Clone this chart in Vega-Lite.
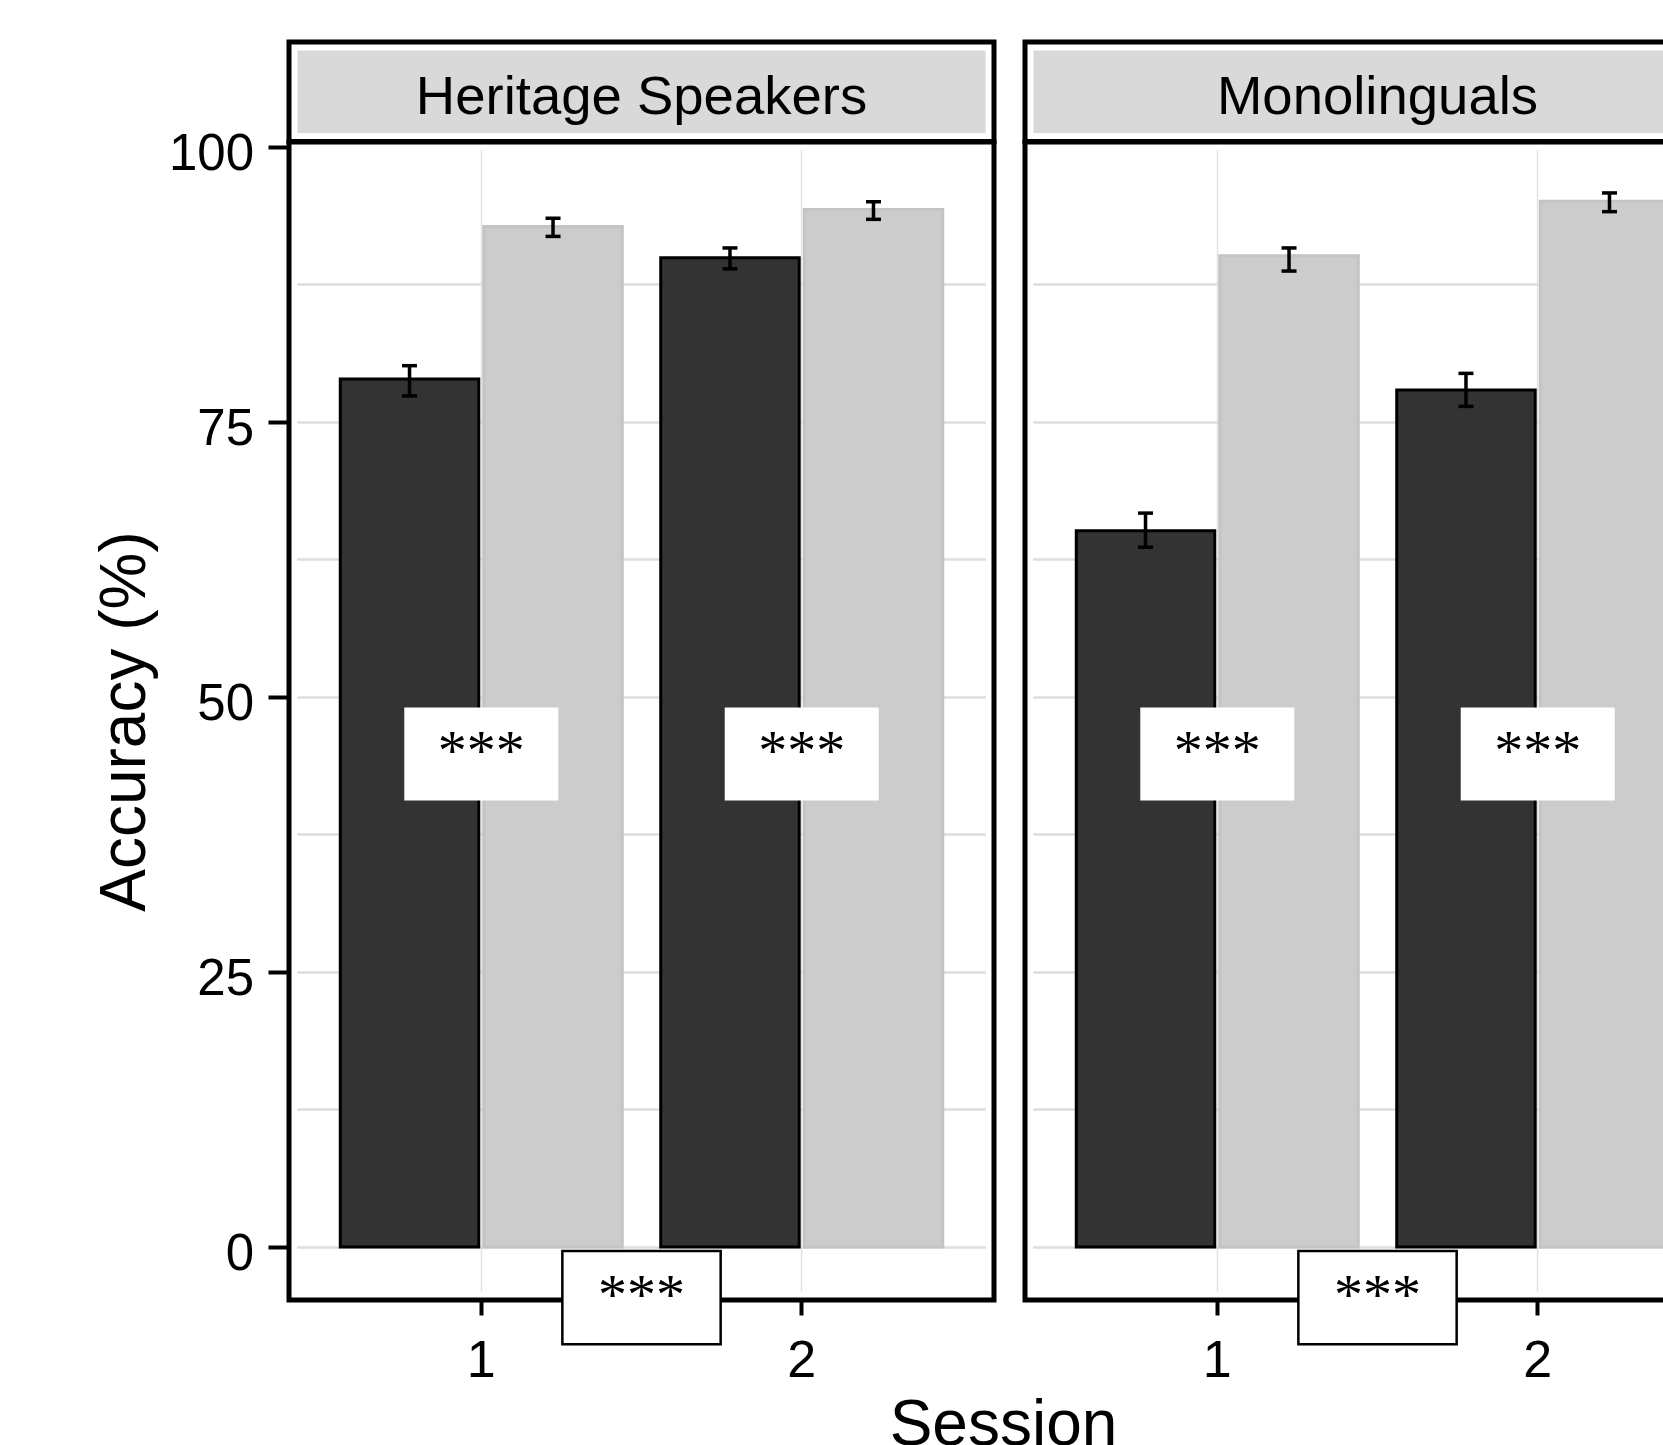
{
  "$schema": "https://vega.github.io/schema/vega-lite/v6.json",
  "background": "white",
  "padding": {"left": 93, "top": 39, "right": 0, "bottom": 0},
  "bounds": "flush",
  "columns": 2,
  "spacing": {"row": 0, "column": 31},
  "datasets": {
    "accuracy": [
      {"Group": "Heritage Speakers", "Session": "1", "Condition": "Condition 1", "Accuracy": 78.9, "Lower": 77.35, "Upper": 80.1},
      {"Group": "Heritage Speakers", "Session": "1", "Condition": "Condition 2", "Accuracy": 92.75, "Lower": 91.85, "Upper": 93.5},
      {"Group": "Heritage Speakers", "Session": "2", "Condition": "Condition 1", "Accuracy": 89.9, "Lower": 88.9, "Upper": 90.8},
      {"Group": "Heritage Speakers", "Session": "2", "Condition": "Condition 2", "Accuracy": 94.3, "Lower": 93.4, "Upper": 95.0},
      {"Group": "Monolinguals", "Session": "1", "Condition": "Condition 1", "Accuracy": 65.1, "Lower": 63.6, "Upper": 66.7},
      {"Group": "Monolinguals", "Session": "1", "Condition": "Condition 2", "Accuracy": 90.1, "Lower": 88.7, "Upper": 90.8},
      {"Group": "Monolinguals", "Session": "2", "Condition": "Condition 1", "Accuracy": 77.9, "Lower": 76.4, "Upper": 79.4},
      {"Group": "Monolinguals", "Session": "2", "Condition": "Condition 2", "Accuracy": 95.05, "Lower": 94.1, "Upper": 95.8}
    ],
    "within": [
      {"Group": "Heritage Speakers", "Session": "1", "Accuracy": 44.8, "Label": "***"},
      {"Group": "Heritage Speakers", "Session": "2", "Accuracy": 44.8, "Label": "***"},
      {"Group": "Monolinguals", "Session": "1", "Accuracy": 44.8, "Label": "***"},
      {"Group": "Monolinguals", "Session": "2", "Accuracy": 44.8, "Label": "***"}
    ],
    "between": [
      {"Group": "Heritage Speakers", "Session": "1", "Accuracy": -4.6, "Label": "***"},
      {"Group": "Monolinguals", "Session": "1", "Accuracy": -4.6, "Label": "***"}
    ]
  },
  "concat": [
    {
      "width": 705,
      "height": 99.5,
      "data": {"values": [{"Group": "Heritage Speakers"}]},
      "layer": [
        {"mark": {"type": "rect", "fill": "#d9d9d9", "stroke": "white", "strokeWidth": 17, "clip": true}, "encoding": {}},
        {"mark": {"type": "rect", "filled": false, "color": "black", "strokeWidth": 5, "opacity": 1}, "encoding": {}},
        {"mark": {"type": "text", "font": "Liberation Sans", "fontSize": 54.5, "baseline": "middle", "align": "center", "dy": 6, "color": "black"}, "encoding": {"text": {"field": "Group"}}}
      ]
    },
    {
      "width": 705,
      "height": 99.5,
      "data": {"values": [{"Group": "Monolinguals"}]},
      "layer": [
        {"mark": {"type": "rect", "fill": "#d9d9d9", "stroke": "white", "strokeWidth": 17, "clip": true}, "encoding": {}},
        {"mark": {"type": "rect", "filled": false, "color": "black", "strokeWidth": 5, "opacity": 1}, "encoding": {}},
        {"mark": {"type": "text", "font": "Liberation Sans", "fontSize": 54.5, "baseline": "middle", "align": "center", "dy": 6, "color": "black"}, "encoding": {"text": {"field": "Group"}}}
      ]
    },
    {
      "width": 705,
      "height": 1158,
      "layer": [
        {
          "data": {"values": [{}]},
          "mark": {"type": "rect", "filled": false, "color": "white", "strokeWidth": 16.4, "clip": true, "opacity": 1},
          "encoding": {}
        },
        {
          "data": {"name": "accuracy"},
          "transform": [{"filter": "datum.Group === 'Heritage Speakers'"}],
          "mark": {"type": "bar", "strokeWidth": 3, "opacity": 1},
          "encoding": {
            "x": {
              "field": "Session", "type": "nominal",
              "scale": {"type": "band", "domain": ["1", "2"], "paddingInner": 0.12, "paddingOuter": 0.16},
              "axis": {
                "bandPosition": 0.5, "domain": false,
                "grid": true, "gridColor": "#e3e3e3", "gridWidth": 1.5,
                "ticks": true, "tickSize": 15, "tickWidth": 4, "tickColor": "black",
                "labelFont": "Liberation Sans", "labelFontSize": 52, "labelColor": "black", "labelPadding": 20, "labelAngle": 0,
                "title": "Session", "titleFont": "Liberation Sans", "titleFontSize": 64, "titleFontWeight": "normal", "titleColor": "black",
                "titleX": 714, "titleY": 144, "titleBaseline": "alphabetic", "titleAlign": "center"
              }
            },
            "xOffset": {"field": "Condition", "type": "nominal", "scale": {"type": "band", "domain": ["Condition 1", "Condition 2"], "paddingInner": 0.035, "paddingOuter": 0}},
            "y": {
              "field": "Accuracy", "type": "quantitative",
              "scale": {"domain": [-4.82, 100.43], "nice": false, "zero": true},
              "axis": {
                "values": [0, 12.5, 25, 37.5, 50, 62.5, 75, 87.5, 100],
                "labelExpr": "datum.value % 25 === 0 ? datum.label : ''",
                "domain": false,
                "grid": true, "gridColor": "#dedede", "gridWidth": 2.5,
                "ticks": true, "tickSize": 21, "tickWidth": 4, "tickColor": "black",
                "tickOpacity": {"condition": {"test": "datum.value % 25 !== 0", "value": 0}, "value": 1},
                "labelFont": "Liberation Sans", "labelFontSize": 51, "labelColor": "black", "labelPadding": 14.5, "labelOffset": 7.5,
                "labelOverlap": false, "labelFlush": false, "labelBaseline": "middle",
                "title": "Accuracy (%)", "titleFont": "Liberation Sans", "titleFontSize": 64, "titleFontWeight": "normal", "titleColor": "black", "titlePadding": 11
              }
            },
            "y2": {"datum": 0},
            "fill": {"field": "Condition", "type": "nominal", "scale": {"domain": ["Condition 1", "Condition 2"], "range": ["#333333", "#cccccc"]}, "legend": null},
            "stroke": {"field": "Condition", "type": "nominal", "scale": {"domain": ["Condition 1", "Condition 2"], "range": ["#000000", "#c4c4c4"]}, "legend": null}
          }
        },
        {
          "data": {"name": "accuracy"},
          "transform": [{"filter": "datum.Group === 'Heritage Speakers'"}],
          "mark": {"type": "rule", "strokeWidth": 3.5, "color": "black", "opacity": 1},
          "encoding": {
            "x": {"field": "Session", "type": "nominal", "scale": {"type": "band", "domain": ["1", "2"], "paddingInner": 0.12, "paddingOuter": 0.16}},
            "xOffset": {"field": "Condition", "type": "nominal", "scale": {"type": "band", "domain": ["Condition 1", "Condition 2"], "paddingInner": 0.035, "paddingOuter": 0}},
            "y": {"field": "Lower", "type": "quantitative", "scale": {"domain": [-4.82, 100.43], "nice": false, "zero": true}},
            "y2": {"field": "Upper"}
          }
        },
        {
          "data": {"name": "accuracy"},
          "transform": [{"filter": "datum.Group === 'Heritage Speakers'"}],
          "mark": {"type": "tick", "size": 15, "thickness": 3.5, "color": "black", "opacity": 1},
          "encoding": {
            "x": {"field": "Session", "type": "nominal", "scale": {"type": "band", "domain": ["1", "2"], "paddingInner": 0.12, "paddingOuter": 0.16}},
            "xOffset": {"field": "Condition", "type": "nominal", "scale": {"type": "band", "domain": ["Condition 1", "Condition 2"], "paddingInner": 0.035, "paddingOuter": 0}},
            "y": {"field": "Lower", "type": "quantitative", "scale": {"domain": [-4.82, 100.43], "nice": false, "zero": true}}
          }
        },
        {
          "data": {"name": "accuracy"},
          "transform": [{"filter": "datum.Group === 'Heritage Speakers'"}],
          "mark": {"type": "tick", "size": 15, "thickness": 3.5, "color": "black", "opacity": 1},
          "encoding": {
            "x": {"field": "Session", "type": "nominal", "scale": {"type": "band", "domain": ["1", "2"], "paddingInner": 0.12, "paddingOuter": 0.16}},
            "xOffset": {"field": "Condition", "type": "nominal", "scale": {"type": "band", "domain": ["Condition 1", "Condition 2"], "paddingInner": 0.035, "paddingOuter": 0}},
            "y": {"field": "Upper", "type": "quantitative", "scale": {"domain": [-4.82, 100.43], "nice": false, "zero": true}}
          }
        },
        {
          "data": {"name": "within"},
          "transform": [{"filter": "datum.Group === 'Heritage Speakers'"}],
          "mark": {"type": "point", "shape": "M-1,-0.604L1,-0.604L1,0.604L-1,0.604Z", "size": 23716, "filled": true, "fill": "white", "strokeWidth": 0, "opacity": 1},
          "encoding": {
            "x": {"field": "Session", "type": "nominal", "scale": {"type": "band", "domain": ["1", "2"], "paddingInner": 0.12, "paddingOuter": 0.16}},
            "y": {"field": "Accuracy", "type": "quantitative", "scale": {"domain": [-4.82, 100.43], "nice": false, "zero": true}}
          }
        },
        {
          "data": {"name": "within"},
          "transform": [{"filter": "datum.Group === 'Heritage Speakers'"}],
          "mark": {"type": "text", "font": "Liberation Serif", "fontSize": 58, "baseline": "middle", "align": "center", "dy": -1.5, "color": "black"},
          "encoding": {
            "x": {"field": "Session", "type": "nominal", "scale": {"type": "band", "domain": ["1", "2"], "paddingInner": 0.12, "paddingOuter": 0.16}},
            "y": {"field": "Accuracy", "type": "quantitative", "scale": {"domain": [-4.82, 100.43], "nice": false, "zero": true}},
            "text": {"field": "Label"}
          }
        },
        {
          "data": {"values": [{}]},
          "mark": {"type": "rect", "filled": false, "color": "black", "strokeWidth": 5, "opacity": 1},
          "encoding": {}
        },
        {
          "data": {"name": "between"},
          "transform": [{"filter": "datum.Group === 'Heritage Speakers'"}],
          "mark": {"type": "point", "shape": "M-1,-0.589L1,-0.589L1,0.589L-1,0.589Z", "size": 25059, "filled": true, "fill": "white", "stroke": "black", "strokeWidth": 2.5, "opacity": 1},
          "encoding": {
            "x": {"field": "Session", "type": "nominal", "bandPosition": 1.0682, "scale": {"type": "band", "domain": ["1", "2"], "paddingInner": 0.12, "paddingOuter": 0.16}},
            "y": {"field": "Accuracy", "type": "quantitative", "scale": {"domain": [-4.82, 100.43], "nice": false, "zero": true}}
          }
        },
        {
          "data": {"name": "between"},
          "transform": [{"filter": "datum.Group === 'Heritage Speakers'"}],
          "mark": {"type": "text", "font": "Liberation Serif", "fontSize": 58, "baseline": "middle", "align": "center", "dy": -0.5, "color": "black"},
          "encoding": {
            "x": {"field": "Session", "type": "nominal", "bandPosition": 1.0682, "scale": {"type": "band", "domain": ["1", "2"], "paddingInner": 0.12, "paddingOuter": 0.16}},
            "y": {"field": "Accuracy", "type": "quantitative", "scale": {"domain": [-4.82, 100.43], "nice": false, "zero": true}},
            "text": {"field": "Label"}
          }
        }
      ]
    },
    {
      "width": 705,
      "height": 1158,
      "layer": [
        {
          "data": {"values": [{}]},
          "mark": {"type": "rect", "filled": false, "color": "white", "strokeWidth": 16.4, "clip": true, "opacity": 1},
          "encoding": {}
        },
        {
          "data": {"name": "accuracy"},
          "transform": [{"filter": "datum.Group === 'Monolinguals'"}],
          "mark": {"type": "bar", "strokeWidth": 3, "opacity": 1},
          "encoding": {
            "x": {
              "field": "Session", "type": "nominal",
              "scale": {"type": "band", "domain": ["1", "2"], "paddingInner": 0.12, "paddingOuter": 0.16},
              "axis": {
                "bandPosition": 0.5, "domain": false,
                "grid": true, "gridColor": "#e3e3e3", "gridWidth": 1.5,
                "ticks": true, "tickSize": 15, "tickWidth": 4, "tickColor": "black",
                "labelFont": "Liberation Sans", "labelFontSize": 52, "labelColor": "black", "labelPadding": 20, "labelAngle": 0,
                "title": null
              }
            },
            "xOffset": {"field": "Condition", "type": "nominal", "scale": {"type": "band", "domain": ["Condition 1", "Condition 2"], "paddingInner": 0.035, "paddingOuter": 0}},
            "y": {
              "field": "Accuracy", "type": "quantitative",
              "scale": {"domain": [-4.82, 100.43], "nice": false, "zero": true},
              "axis": {
                "values": [0, 12.5, 25, 37.5, 50, 62.5, 75, 87.5, 100],
                "domain": false, "labels": false, "ticks": false,
                "grid": true, "gridColor": "#dedede", "gridWidth": 2.5,
                "title": null
              }
            },
            "y2": {"datum": 0},
            "fill": {"field": "Condition", "type": "nominal", "scale": {"domain": ["Condition 1", "Condition 2"], "range": ["#333333", "#cccccc"]}, "legend": null},
            "stroke": {"field": "Condition", "type": "nominal", "scale": {"domain": ["Condition 1", "Condition 2"], "range": ["#000000", "#c4c4c4"]}, "legend": null}
          }
        },
        {
          "data": {"name": "accuracy"},
          "transform": [{"filter": "datum.Group === 'Monolinguals'"}],
          "mark": {"type": "rule", "strokeWidth": 3.5, "color": "black", "opacity": 1},
          "encoding": {
            "x": {"field": "Session", "type": "nominal", "scale": {"type": "band", "domain": ["1", "2"], "paddingInner": 0.12, "paddingOuter": 0.16}},
            "xOffset": {"field": "Condition", "type": "nominal", "scale": {"type": "band", "domain": ["Condition 1", "Condition 2"], "paddingInner": 0.035, "paddingOuter": 0}},
            "y": {"field": "Lower", "type": "quantitative", "scale": {"domain": [-4.82, 100.43], "nice": false, "zero": true}},
            "y2": {"field": "Upper"}
          }
        },
        {
          "data": {"name": "accuracy"},
          "transform": [{"filter": "datum.Group === 'Monolinguals'"}],
          "mark": {"type": "tick", "size": 15, "thickness": 3.5, "color": "black", "opacity": 1},
          "encoding": {
            "x": {"field": "Session", "type": "nominal", "scale": {"type": "band", "domain": ["1", "2"], "paddingInner": 0.12, "paddingOuter": 0.16}},
            "xOffset": {"field": "Condition", "type": "nominal", "scale": {"type": "band", "domain": ["Condition 1", "Condition 2"], "paddingInner": 0.035, "paddingOuter": 0}},
            "y": {"field": "Lower", "type": "quantitative", "scale": {"domain": [-4.82, 100.43], "nice": false, "zero": true}}
          }
        },
        {
          "data": {"name": "accuracy"},
          "transform": [{"filter": "datum.Group === 'Monolinguals'"}],
          "mark": {"type": "tick", "size": 15, "thickness": 3.5, "color": "black", "opacity": 1},
          "encoding": {
            "x": {"field": "Session", "type": "nominal", "scale": {"type": "band", "domain": ["1", "2"], "paddingInner": 0.12, "paddingOuter": 0.16}},
            "xOffset": {"field": "Condition", "type": "nominal", "scale": {"type": "band", "domain": ["Condition 1", "Condition 2"], "paddingInner": 0.035, "paddingOuter": 0}},
            "y": {"field": "Upper", "type": "quantitative", "scale": {"domain": [-4.82, 100.43], "nice": false, "zero": true}}
          }
        },
        {
          "data": {"name": "within"},
          "transform": [{"filter": "datum.Group === 'Monolinguals'"}],
          "mark": {"type": "point", "shape": "M-1,-0.604L1,-0.604L1,0.604L-1,0.604Z", "size": 23716, "filled": true, "fill": "white", "strokeWidth": 0, "opacity": 1},
          "encoding": {
            "x": {"field": "Session", "type": "nominal", "scale": {"type": "band", "domain": ["1", "2"], "paddingInner": 0.12, "paddingOuter": 0.16}},
            "y": {"field": "Accuracy", "type": "quantitative", "scale": {"domain": [-4.82, 100.43], "nice": false, "zero": true}}
          }
        },
        {
          "data": {"name": "within"},
          "transform": [{"filter": "datum.Group === 'Monolinguals'"}],
          "mark": {"type": "text", "font": "Liberation Serif", "fontSize": 58, "baseline": "middle", "align": "center", "dy": -1.5, "color": "black"},
          "encoding": {
            "x": {"field": "Session", "type": "nominal", "scale": {"type": "band", "domain": ["1", "2"], "paddingInner": 0.12, "paddingOuter": 0.16}},
            "y": {"field": "Accuracy", "type": "quantitative", "scale": {"domain": [-4.82, 100.43], "nice": false, "zero": true}},
            "text": {"field": "Label"}
          }
        },
        {
          "data": {"values": [{}]},
          "mark": {"type": "rect", "filled": false, "color": "black", "strokeWidth": 5, "opacity": 1},
          "encoding": {}
        },
        {
          "data": {"name": "between"},
          "transform": [{"filter": "datum.Group === 'Monolinguals'"}],
          "mark": {"type": "point", "shape": "M-1,-0.589L1,-0.589L1,0.589L-1,0.589Z", "size": 25059, "filled": true, "fill": "white", "stroke": "black", "strokeWidth": 2.5, "opacity": 1},
          "encoding": {
            "x": {"field": "Session", "type": "nominal", "bandPosition": 1.0682, "scale": {"type": "band", "domain": ["1", "2"], "paddingInner": 0.12, "paddingOuter": 0.16}},
            "y": {"field": "Accuracy", "type": "quantitative", "scale": {"domain": [-4.82, 100.43], "nice": false, "zero": true}}
          }
        },
        {
          "data": {"name": "between"},
          "transform": [{"filter": "datum.Group === 'Monolinguals'"}],
          "mark": {"type": "text", "font": "Liberation Serif", "fontSize": 58, "baseline": "middle", "align": "center", "dy": -0.5, "color": "black"},
          "encoding": {
            "x": {"field": "Session", "type": "nominal", "bandPosition": 1.0682, "scale": {"type": "band", "domain": ["1", "2"], "paddingInner": 0.12, "paddingOuter": 0.16}},
            "y": {"field": "Accuracy", "type": "quantitative", "scale": {"domain": [-4.82, 100.43], "nice": false, "zero": true}},
            "text": {"field": "Label"}
          }
        }
      ]
    }
  ],
  "config": {
    "view": {"stroke": null},
    "font": "Liberation Sans"
  }
}
